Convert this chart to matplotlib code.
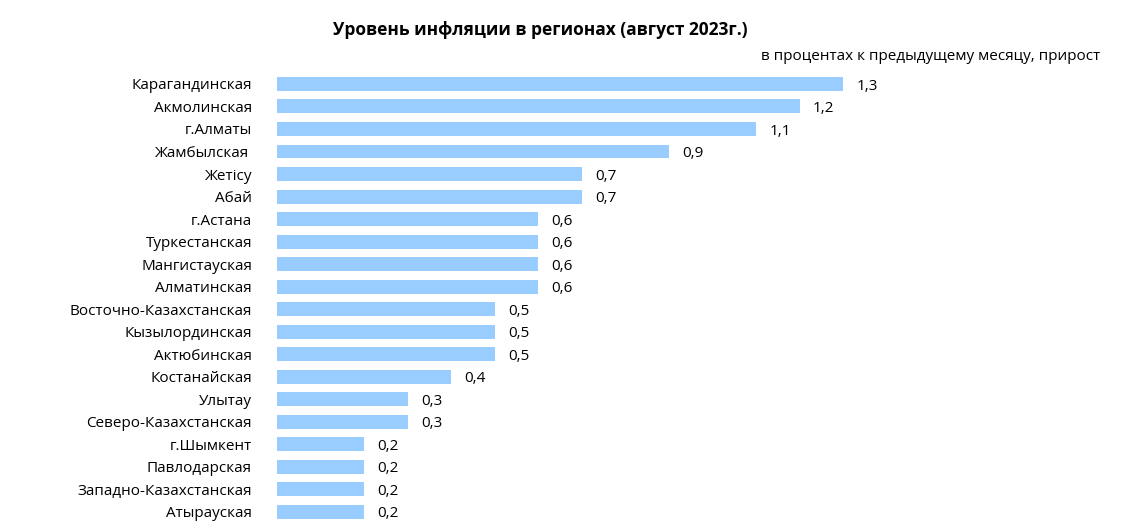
import matplotlib
matplotlib.use("Agg")
import matplotlib.pyplot as plt

regions = ["Карагандинская", "Акмолинская", "г.Алматы", "Жамбылская ", "Жетісу", "Абай",
           "г.Астана", "Туркестанская", "Мангистауская", "Алматинская",
           "Восточно-Казахстанская", "Кызылординская", "Актюбинская", "Костанайская",
           "Улытау", "Северо-Казахстанская", "г.Шымкент", "Павлодарская",
           "Западно-Казахстанская", "Атырауская"]
values = [1.3, 1.2, 1.1, 0.9, 0.7, 0.7, 0.6, 0.6, 0.6, 0.6,
          0.5, 0.5, 0.5, 0.4, 0.3, 0.3, 0.2, 0.2, 0.2, 0.2]

plt.rcParams["font.family"] = "Open Sans"
W, H = 1123, 530
fig = plt.figure(figsize=(W/100, H/100), dpi=100)
ax = fig.add_axes([277/W, 1-523/H, (974-277)/W, (523-72.7)/H])
y = list(range(len(regions)))
ax.barh(y, values, height=0.62, color="#99CCFF")
ax.set_ylim(len(regions)-0.5, -0.5)
ax.set_xlim(0, 1.6)
ax.set_yticks(y)
ax.set_yticklabels(regions, fontsize=11)
ax.tick_params(axis="y", length=0, pad=18)
ax.set_xticks([])
for s in ax.spines.values():
    s.set_visible(False)
for yi, v in zip(y, values):
    ax.text(v + 0.03, yi + 0.1, f"{v:.1f}".replace(".", ","), va="center", ha="left", fontsize=11)
fig.text(540/W, 1-30/H, "Уровень инфляции в регионах (август 2023г.)", ha="center", va="center",
         fontsize=12.5, fontweight="bold")
fig.text(1100/W, 1-57/H, "в процентах к предыдущему месяцу, прирост", ha="right", va="center", fontsize=11)
fig.savefig("out.png", dpi=100)
